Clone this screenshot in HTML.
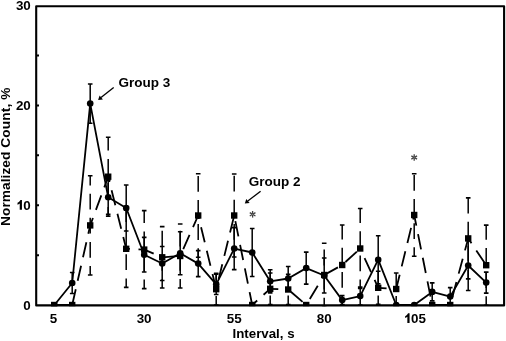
<!DOCTYPE html>
<html><head><meta charset="utf-8"><style>
html,body{margin:0;padding:0;background:#fff;}
body{width:506px;height:341px;overflow:hidden;position:relative;font-family:"Liberation Sans",sans-serif;}
svg{position:absolute;left:0;top:0;will-change:transform;}
.eb{stroke:#000;stroke-width:1.5;}
.ebd{stroke:#000;stroke-width:1.5;stroke-dasharray:15.8 8.3;stroke-dashoffset:6.8;}
.cap{stroke:#000;stroke-width:1.6;}
.sl{fill:none;stroke:#000;stroke-width:1.8;stroke-linejoin:round;}
.dl{fill:none;stroke:#000;stroke-width:1.8;stroke-dasharray:15.5 8.6;}
text{font-family:"Liberation Sans",sans-serif;font-weight:bold;fill:#000;}
</style></head><body>
<svg width="506" height="341" viewBox="0 0 506 341">
<text x="15.90" y="10.30" font-size="13.4">3</text><text x="23.35" y="10.30" font-size="13.4">0</text>
<text x="15.90" y="109.90" font-size="13.4">2</text><text x="23.35" y="109.90" font-size="13.4">0</text>
<polygon points="19.73,209.80 21.94,209.80 21.94,200.03 20.43,200.03 19.83,201.03 18.92,201.94 17.51,202.85 17.51,204.66 18.62,204.16 19.73,203.45"/><text x="23.35" y="209.80" font-size="13.4">0</text>
<text x="23.35" y="309.90" font-size="13.4">0</text>
<text x="49.87" y="323.10" font-size="13.4">5</text>
<text x="136.65" y="323.10" font-size="13.4">3</text><text x="144.10" y="323.10" font-size="13.4">0</text>
<text x="226.75" y="323.10" font-size="13.4">5</text><text x="234.20" y="323.10" font-size="13.4">5</text>
<text x="316.85" y="323.10" font-size="13.4">8</text><text x="324.30" y="323.10" font-size="13.4">0</text>
<polygon points="407.35,323.10 409.57,323.10 409.57,313.33 408.06,313.33 407.45,314.33 406.55,315.24 405.14,316.15 405.14,317.96 406.24,317.46 407.35,316.75"/><text x="410.97" y="323.10" font-size="13.4">0</text><text x="418.43" y="323.10" font-size="13.4">5</text>
<text x="232.5" y="337.8" font-size="13.3">Interval, s</text>
<text transform="translate(10.4,225.9) rotate(-90)" font-size="13.7" letter-spacing="0.05">Normalized</text>
<text transform="translate(10.4,147.7) rotate(-90)" font-size="13.7" letter-spacing="0.13">Count, %</text>
<text x="118.6" y="87.3" font-size="13.5">Group 3</text>
<text x="248.7" y="186.3" font-size="13.5">Group 2</text>
<g stroke="#000" stroke-width="2">
<line x1="37" y1="55.4" x2="39" y2="55.4"/>
<line x1="37" y1="105.4" x2="39" y2="105.4"/>
<line x1="37" y1="155.2" x2="39" y2="155.2"/>
<line x1="37" y1="205.2" x2="39" y2="205.2"/>
<line x1="37" y1="255.2" x2="39" y2="255.2"/>
</g>
<defs><clipPath id="pc"><rect x="36" y="5" width="469" height="301.3"/></clipPath></defs>
<g clip-path="url(#pc)">
<line x1="72.2" y1="272.5" x2="72.2" y2="293.5" class="eb"/>
<line x1="69.9" y1="272.5" x2="74.5" y2="272.5" class="cap"/>
<line x1="69.9" y1="293.5" x2="74.5" y2="293.5" class="cap"/>
<line x1="90.2" y1="84.0" x2="90.2" y2="123.2" class="eb"/>
<line x1="87.9" y1="84.0" x2="92.5" y2="84.0" class="cap"/>
<line x1="87.9" y1="123.2" x2="92.5" y2="123.2" class="cap"/>
<line x1="108.2" y1="180.3" x2="108.2" y2="214.3" class="eb"/>
<line x1="105.9" y1="180.3" x2="110.5" y2="180.3" class="cap"/>
<line x1="105.9" y1="214.3" x2="110.5" y2="214.3" class="cap"/>
<line x1="126.2" y1="185.0" x2="126.2" y2="231.0" class="eb"/>
<line x1="123.9" y1="185.0" x2="128.5" y2="185.0" class="cap"/>
<line x1="123.9" y1="231.0" x2="128.5" y2="231.0" class="cap"/>
<line x1="144.2" y1="237.4" x2="144.2" y2="272.0" class="eb"/>
<line x1="141.9" y1="237.4" x2="146.5" y2="237.4" class="cap"/>
<line x1="141.9" y1="272.0" x2="146.5" y2="272.0" class="cap"/>
<line x1="162.2" y1="246.5" x2="162.2" y2="280.5" class="eb"/>
<line x1="159.9" y1="246.5" x2="164.5" y2="246.5" class="cap"/>
<line x1="159.9" y1="280.5" x2="164.5" y2="280.5" class="cap"/>
<line x1="180.2" y1="231.7" x2="180.2" y2="274.7" class="eb"/>
<line x1="177.9" y1="231.7" x2="182.5" y2="231.7" class="cap"/>
<line x1="177.9" y1="274.7" x2="182.5" y2="274.7" class="cap"/>
<line x1="198.2" y1="250.6" x2="198.2" y2="276.6" class="eb"/>
<line x1="195.9" y1="250.6" x2="200.5" y2="250.6" class="cap"/>
<line x1="195.9" y1="276.6" x2="200.5" y2="276.6" class="cap"/>
<line x1="216.2" y1="274.3" x2="216.2" y2="294.5" class="eb"/>
<line x1="213.9" y1="274.3" x2="218.5" y2="274.3" class="cap"/>
<line x1="213.9" y1="294.5" x2="218.5" y2="294.5" class="cap"/>
<line x1="234.2" y1="227.6" x2="234.2" y2="269.6" class="eb"/>
<line x1="231.9" y1="227.6" x2="236.5" y2="227.6" class="cap"/>
<line x1="231.9" y1="269.6" x2="236.5" y2="269.6" class="cap"/>
<line x1="252.2" y1="228.5" x2="252.2" y2="276.5" class="eb"/>
<line x1="249.9" y1="228.5" x2="254.5" y2="228.5" class="cap"/>
<line x1="249.9" y1="276.5" x2="254.5" y2="276.5" class="cap"/>
<line x1="270.2" y1="269.7" x2="270.2" y2="292.9" class="eb"/>
<line x1="267.9" y1="269.7" x2="272.5" y2="269.7" class="cap"/>
<line x1="267.9" y1="292.9" x2="272.5" y2="292.9" class="cap"/>
<line x1="288.2" y1="266.5" x2="288.2" y2="290.5" class="eb"/>
<line x1="285.9" y1="266.5" x2="290.5" y2="266.5" class="cap"/>
<line x1="285.9" y1="290.5" x2="290.5" y2="290.5" class="cap"/>
<line x1="306.2" y1="252.1" x2="306.2" y2="284.1" class="eb"/>
<line x1="303.9" y1="252.1" x2="308.5" y2="252.1" class="cap"/>
<line x1="303.9" y1="284.1" x2="308.5" y2="284.1" class="cap"/>
<line x1="324.2" y1="258.0" x2="324.2" y2="293.0" class="eb"/>
<line x1="321.9" y1="258.0" x2="326.5" y2="258.0" class="cap"/>
<line x1="321.9" y1="293.0" x2="326.5" y2="293.0" class="cap"/>
<line x1="342.2" y1="295.6" x2="342.2" y2="304.6" class="eb"/>
<line x1="339.9" y1="295.6" x2="344.5" y2="295.6" class="cap"/>
<line x1="339.9" y1="304.6" x2="344.5" y2="304.6" class="cap"/>
<line x1="360.2" y1="287.1" x2="360.2" y2="305.1" class="eb"/>
<line x1="357.9" y1="287.1" x2="362.5" y2="287.1" class="cap"/>
<line x1="357.9" y1="305.1" x2="362.5" y2="305.1" class="cap"/>
<line x1="378.2" y1="235.7" x2="378.2" y2="283.7" class="eb"/>
<line x1="375.9" y1="235.7" x2="380.5" y2="235.7" class="cap"/>
<line x1="375.9" y1="283.7" x2="380.5" y2="283.7" class="cap"/>
<line x1="432.2" y1="282.9" x2="432.2" y2="300.9" class="eb"/>
<line x1="429.9" y1="282.9" x2="434.5" y2="282.9" class="cap"/>
<line x1="429.9" y1="300.9" x2="434.5" y2="300.9" class="cap"/>
<line x1="450.2" y1="287.6" x2="450.2" y2="305.6" class="eb"/>
<line x1="447.9" y1="287.6" x2="452.5" y2="287.6" class="cap"/>
<line x1="447.9" y1="305.6" x2="452.5" y2="305.6" class="cap"/>
<line x1="468.2" y1="240.5" x2="468.2" y2="290.5" class="eb"/>
<line x1="465.9" y1="240.5" x2="470.5" y2="240.5" class="cap"/>
<line x1="465.9" y1="290.5" x2="470.5" y2="290.5" class="cap"/>
<line x1="486.2" y1="272.1" x2="486.2" y2="293.1" class="eb"/>
<line x1="483.9" y1="272.1" x2="488.5" y2="272.1" class="cap"/>
<line x1="483.9" y1="293.1" x2="488.5" y2="293.1" class="cap"/>
<line x1="90.2" y1="275.0" x2="90.2" y2="175.8" class="ebd"/>
<line x1="87.9" y1="175.8" x2="92.5" y2="175.8" class="cap"/>
<line x1="87.9" y1="275.0" x2="92.5" y2="275.0" class="cap"/>
<line x1="108.2" y1="216.1" x2="108.2" y2="137.3" class="ebd"/>
<line x1="105.9" y1="137.3" x2="110.5" y2="137.3" class="cap"/>
<line x1="105.9" y1="216.1" x2="110.5" y2="216.1" class="cap"/>
<line x1="126.2" y1="287.4" x2="126.2" y2="210.2" class="ebd"/>
<line x1="123.9" y1="210.2" x2="128.5" y2="210.2" class="cap"/>
<line x1="123.9" y1="287.4" x2="128.5" y2="287.4" class="cap"/>
<line x1="144.2" y1="288.6" x2="144.2" y2="210.6" class="ebd"/>
<line x1="141.9" y1="210.6" x2="146.5" y2="210.6" class="cap"/>
<line x1="141.9" y1="288.6" x2="146.5" y2="288.6" class="cap"/>
<line x1="162.2" y1="288.0" x2="162.2" y2="226.6" class="ebd"/>
<line x1="159.9" y1="226.6" x2="164.5" y2="226.6" class="cap"/>
<line x1="159.9" y1="288.0" x2="164.5" y2="288.0" class="cap"/>
<line x1="180.2" y1="288.0" x2="180.2" y2="224.0" class="ebd"/>
<line x1="177.9" y1="224.0" x2="182.5" y2="224.0" class="cap"/>
<line x1="177.9" y1="288.0" x2="182.5" y2="288.0" class="cap"/>
<line x1="198.2" y1="257.2" x2="198.2" y2="173.8" class="ebd"/>
<line x1="195.9" y1="173.8" x2="200.5" y2="173.8" class="cap"/>
<line x1="195.9" y1="257.2" x2="200.5" y2="257.2" class="cap"/>
<line x1="216.2" y1="305.1" x2="216.2" y2="273.3" class="ebd"/>
<line x1="213.9" y1="273.3" x2="218.5" y2="273.3" class="cap"/>
<line x1="213.9" y1="305.1" x2="218.5" y2="305.1" class="cap"/>
<line x1="234.2" y1="257.0" x2="234.2" y2="174.0" class="ebd"/>
<line x1="231.9" y1="174.0" x2="236.5" y2="174.0" class="cap"/>
<line x1="231.9" y1="257.0" x2="236.5" y2="257.0" class="cap"/>
<line x1="270.2" y1="304.6" x2="270.2" y2="273.0" class="ebd"/>
<line x1="267.9" y1="273.0" x2="272.5" y2="273.0" class="cap"/>
<line x1="267.9" y1="304.6" x2="272.5" y2="304.6" class="cap"/>
<line x1="288.2" y1="304.6" x2="288.2" y2="274.4" class="ebd"/>
<line x1="285.9" y1="274.4" x2="290.5" y2="274.4" class="cap"/>
<line x1="285.9" y1="304.6" x2="290.5" y2="304.6" class="cap"/>
<line x1="324.2" y1="306.8" x2="324.2" y2="243.2" class="ebd"/>
<line x1="321.9" y1="243.2" x2="326.5" y2="243.2" class="cap"/>
<line x1="321.9" y1="306.8" x2="326.5" y2="306.8" class="cap"/>
<line x1="342.2" y1="305.0" x2="342.2" y2="225.0" class="ebd"/>
<line x1="339.9" y1="225.0" x2="344.5" y2="225.0" class="cap"/>
<line x1="339.9" y1="305.0" x2="344.5" y2="305.0" class="cap"/>
<line x1="360.2" y1="288.5" x2="360.2" y2="208.5" class="ebd"/>
<line x1="357.9" y1="208.5" x2="362.5" y2="208.5" class="cap"/>
<line x1="357.9" y1="288.5" x2="362.5" y2="288.5" class="cap"/>
<line x1="378.2" y1="304.4" x2="378.2" y2="271.2" class="ebd"/>
<line x1="375.9" y1="271.2" x2="380.5" y2="271.2" class="cap"/>
<line x1="375.9" y1="304.4" x2="380.5" y2="304.4" class="cap"/>
<line x1="396.2" y1="305.0" x2="396.2" y2="273.0" class="ebd"/>
<line x1="393.9" y1="273.0" x2="398.5" y2="273.0" class="cap"/>
<line x1="393.9" y1="305.0" x2="398.5" y2="305.0" class="cap"/>
<line x1="414.2" y1="256.3" x2="414.2" y2="173.7" class="ebd"/>
<line x1="411.9" y1="173.7" x2="416.5" y2="173.7" class="cap"/>
<line x1="411.9" y1="256.3" x2="416.5" y2="256.3" class="cap"/>
<line x1="468.2" y1="278.9" x2="468.2" y2="197.9" class="ebd"/>
<line x1="465.9" y1="197.9" x2="470.5" y2="197.9" class="cap"/>
<line x1="465.9" y1="278.9" x2="470.5" y2="278.9" class="cap"/>
<line x1="486.2" y1="305.3" x2="486.2" y2="225.1" class="ebd"/>
<line x1="483.9" y1="225.1" x2="488.5" y2="225.1" class="cap"/>
<line x1="483.9" y1="305.3" x2="488.5" y2="305.3" class="cap"/>
<line x1="54.2" y1="305.0" x2="72.2" y2="305.0" class="dl" stroke-dashoffset="0.0"/>
<line x1="72.2" y1="305.0" x2="90.2" y2="225.4" class="dl" stroke-dashoffset="23.4"/>
<line x1="90.2" y1="225.4" x2="108.2" y2="176.7" class="dl" stroke-dashoffset="7.6"/>
<line x1="108.2" y1="176.7" x2="126.2" y2="248.8" class="dl" stroke-dashoffset="10.1"/>
<line x1="126.2" y1="248.8" x2="144.2" y2="249.6" class="dl" stroke-dashoffset="11.8"/>
<line x1="144.2" y1="249.6" x2="162.2" y2="257.3" class="dl" stroke-dashoffset="5.2"/>
<line x1="162.2" y1="257.3" x2="180.2" y2="256.0" class="dl" stroke-dashoffset="0.4"/>
<line x1="180.2" y1="256.0" x2="198.2" y2="215.5" class="dl" stroke-dashoffset="16.6"/>
<line x1="198.2" y1="215.5" x2="216.2" y2="289.2" class="dl" stroke-dashoffset="12.0"/>
<line x1="216.2" y1="289.2" x2="234.2" y2="215.5" class="dl" stroke-dashoffset="13.9"/>
<line x1="234.2" y1="215.5" x2="252.2" y2="305.0" class="dl" stroke-dashoffset="18.3"/>
<line x1="252.2" y1="305.0" x2="270.2" y2="288.8" class="dl" stroke-dashoffset="8.8"/>
<line x1="270.2" y1="288.8" x2="288.2" y2="289.5" class="dl" stroke-dashoffset="7.4"/>
<line x1="288.2" y1="289.5" x2="306.2" y2="305.0" class="dl" stroke-dashoffset="20.6"/>
<line x1="306.2" y1="305.0" x2="324.2" y2="275.0" class="dl" stroke-dashoffset="17.1"/>
<line x1="324.2" y1="275.0" x2="342.2" y2="265.0" class="dl" stroke-dashoffset="23.9"/>
<line x1="342.2" y1="265.0" x2="360.2" y2="248.5" class="dl" stroke-dashoffset="19.7"/>
<line x1="360.2" y1="248.5" x2="378.2" y2="287.8" class="dl" stroke-dashoffset="13.6"/>
<line x1="378.2" y1="287.8" x2="396.2" y2="289.0" class="dl" stroke-dashoffset="7.1"/>
<line x1="396.2" y1="289.0" x2="414.2" y2="215.0" class="dl" stroke-dashoffset="0.8"/>
<line x1="414.2" y1="215.0" x2="432.2" y2="305.0" class="dl" stroke-dashoffset="4.6"/>
<line x1="432.2" y1="305.0" x2="450.2" y2="305.0" class="dl" stroke-dashoffset="0.0"/>
<line x1="450.2" y1="305.0" x2="468.2" y2="238.4" class="dl" stroke-dashoffset="15.7"/>
<line x1="468.2" y1="238.4" x2="486.2" y2="265.2" class="dl" stroke-dashoffset="9.6"/>
<polyline points="54.2,305.2 72.2,283.0 90.2,103.6 108.2,197.3 126.2,208.0 144.2,254.7 162.2,263.5 180.2,253.2 198.2,263.6 216.2,284.4 234.2,248.6 252.2,252.5 270.2,281.3 288.2,278.5 306.2,268.1 324.2,275.5 342.2,300.1 360.2,296.1 378.2,259.7 396.2,305.0 414.2,305.0 432.2,291.9 450.2,296.6 468.2,265.5 486.2,282.6" class="sl"/>
<rect x="51.0" y="301.8" width="6.4" height="6.4"/>
<rect x="69.0" y="301.8" width="6.4" height="6.4"/>
<rect x="87.0" y="222.2" width="6.4" height="6.4"/>
<rect x="105.0" y="173.5" width="6.4" height="6.4"/>
<rect x="123.0" y="245.6" width="6.4" height="6.4"/>
<rect x="141.0" y="246.4" width="6.4" height="6.4"/>
<rect x="159.0" y="254.1" width="6.4" height="6.4"/>
<rect x="177.0" y="252.8" width="6.4" height="6.4"/>
<rect x="195.0" y="212.3" width="6.4" height="6.4"/>
<rect x="213.0" y="286.0" width="6.4" height="6.4"/>
<rect x="231.0" y="212.3" width="6.4" height="6.4"/>
<rect x="249.0" y="301.8" width="6.4" height="6.4"/>
<rect x="267.0" y="285.6" width="6.4" height="6.4"/>
<rect x="285.0" y="286.3" width="6.4" height="6.4"/>
<rect x="303.0" y="301.8" width="6.4" height="6.4"/>
<rect x="321.0" y="271.8" width="6.4" height="6.4"/>
<rect x="339.0" y="261.8" width="6.4" height="6.4"/>
<rect x="357.0" y="245.3" width="6.4" height="6.4"/>
<rect x="375.0" y="284.6" width="6.4" height="6.4"/>
<rect x="393.0" y="285.8" width="6.4" height="6.4"/>
<rect x="411.0" y="211.8" width="6.4" height="6.4"/>
<rect x="429.0" y="301.8" width="6.4" height="6.4"/>
<rect x="447.0" y="301.8" width="6.4" height="6.4"/>
<rect x="465.0" y="235.2" width="6.4" height="6.4"/>
<rect x="483.0" y="262.0" width="6.4" height="6.4"/>
<circle cx="54.2" cy="305.2" r="3.3"/>
<circle cx="72.2" cy="283.0" r="3.3"/>
<circle cx="90.2" cy="103.6" r="3.3"/>
<circle cx="108.2" cy="197.3" r="3.3"/>
<circle cx="126.2" cy="208.0" r="3.3"/>
<circle cx="144.2" cy="254.7" r="3.3"/>
<circle cx="162.2" cy="263.5" r="3.3"/>
<circle cx="180.2" cy="253.2" r="3.3"/>
<circle cx="198.2" cy="263.6" r="3.3"/>
<circle cx="216.2" cy="284.4" r="3.3"/>
<circle cx="234.2" cy="248.6" r="3.3"/>
<circle cx="252.2" cy="252.5" r="3.3"/>
<circle cx="270.2" cy="281.3" r="3.3"/>
<circle cx="288.2" cy="278.5" r="3.3"/>
<circle cx="306.2" cy="268.1" r="3.3"/>
<circle cx="324.2" cy="275.5" r="3.3"/>
<circle cx="342.2" cy="300.1" r="3.3"/>
<circle cx="360.2" cy="296.1" r="3.3"/>
<circle cx="378.2" cy="259.7" r="3.3"/>
<circle cx="396.2" cy="305.0" r="3.3"/>
<circle cx="414.2" cy="305.0" r="3.3"/>
<circle cx="432.2" cy="291.9" r="3.3"/>
<circle cx="450.2" cy="296.6" r="3.3"/>
<circle cx="468.2" cy="265.5" r="3.3"/>
<circle cx="486.2" cy="282.6" r="3.3"/>
</g>
<rect x="36.2" y="6.2" width="467.9" height="299.2" fill="none" stroke="#000" stroke-width="2.1" stroke-linejoin="round"/>
<g stroke="#000" stroke-width="1.3">
<line x1="113.7" y1="87.6" x2="101" y2="97.5"/>
<line x1="260.6" y1="191.2" x2="247.8" y2="201"/>
</g>
<polygon points="98.1,100.1 99.6,95.6 102.9,99.6" fill="#000"/>
<polygon points="244.8,203.4 246.3,198.9 249.6,202.9" fill="#000"/>
<g stroke="#444" stroke-width="1.3" stroke-linecap="butt"><line x1="252.60" y1="213.95" x2="252.60" y2="211.00"/><line x1="252.90" y1="214.12" x2="255.46" y2="212.65"/><line x1="252.30" y1="214.12" x2="249.74" y2="212.65"/><line x1="252.60" y1="214.65" x2="252.60" y2="217.60"/><line x1="252.30" y1="214.48" x2="249.74" y2="215.95"/><line x1="252.90" y1="214.48" x2="255.46" y2="215.95"/></g>
<g stroke="#444" stroke-width="1.3" stroke-linecap="butt"><line x1="414.20" y1="157.15" x2="414.20" y2="154.20"/><line x1="414.50" y1="157.32" x2="417.06" y2="155.85"/><line x1="413.90" y1="157.32" x2="411.34" y2="155.85"/><line x1="414.20" y1="157.85" x2="414.20" y2="160.80"/><line x1="413.90" y1="157.68" x2="411.34" y2="159.15"/><line x1="414.50" y1="157.68" x2="417.06" y2="159.15"/></g>
</svg>
</body></html>
